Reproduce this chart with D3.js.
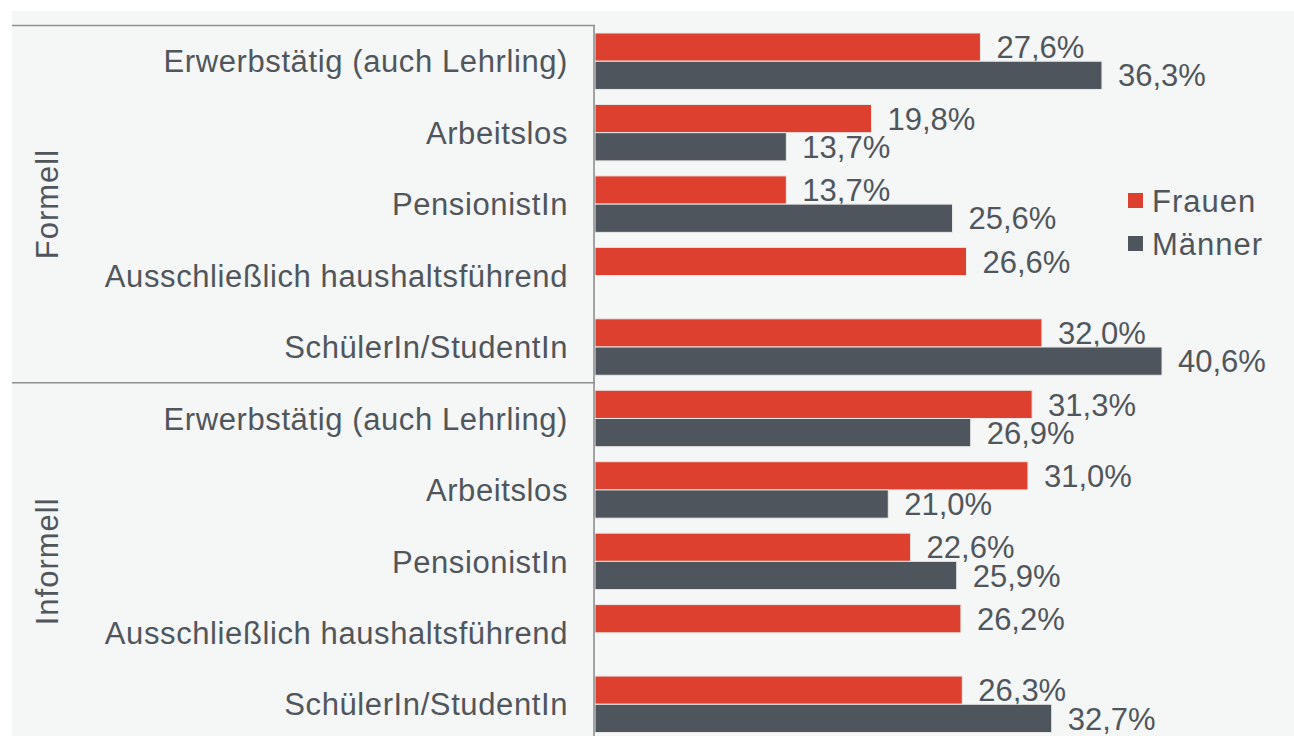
<!DOCTYPE html>
<html>
<head>
<meta charset="utf-8">
<script src="https://cdn.jsdelivr.net/npm/d3@7/dist/d3.min.js"></script>
<style>
  html, body { margin: 0; padding: 0; background: #ffffff; }
  svg { display: block; }
  text { font-family: "Liberation Sans", Arial, sans-serif; fill: #50565c; }
</style>
</head>
<body>
<svg id="chart" width="1294" height="736"></svg>
<script>
// Erwerbsstatus, nach Gruppe (formell / informell) und Geschlecht
const groups = ["Formell", "Informell"];
const categories = [
  "Erwerbstätig (auch Lehrling)",
  "Arbeitslos",
  "PensionistIn",
  "Ausschließlich haushaltsführend",
  "SchülerIn/StudentIn"
];
const series = ["Frauen", "Männer"];
const frauen = [27.6, 19.8, 13.7, 26.6, 32.0, 31.3, 31.0, 22.6, 26.2, 26.3];
const maenner = [36.3, 13.7, 25.6, null, 40.6, 26.9, 21.0, 25.9, null, 32.7];
const colors = ["#dd402e", "#4f555c"];

const rows = [];
groups.forEach((g, gi) => categories.forEach((c, ci) => {
  const i = gi * categories.length + ci;
  rows.push({ key: g + "|" + c, group: g, label: c, values: [frauen[i], maenner[i]] });
}));

const svg = d3.select("#chart");
const W = 1294, H = 736;

// light panel behind the chart
svg.append("rect").attr("x", 12).attr("y", 11).attr("width", W - 12).attr("height", H - 11)
  .attr("fill", "#f5f6f6");

const x0 = 595, yTop = 25.5;
const step = 71.45;
const y = d3.scaleBand().domain(rows.map(r => r.key))
  .range([yTop, yTop + step * rows.length]).paddingInner(0.21).paddingOuter(0.105);
const ySub = d3.scaleBand().domain(series).range([0, y.bandwidth()]);
const x = d3.scaleLinear().domain([0, 40.6]).range([x0, 1162]);

// bars
const rowG = svg.append("g").selectAll("g").data(rows).join("g")
  .attr("transform", d => `translate(0,${y(d.key)})`);

rowG.each(function (d) {
  const g = d3.select(this);
  d.values.forEach((v, si) => {
    if (v == null) return;
    g.append("rect")
      .attr("x", x(0)).attr("y", ySub(series[si]))
      .attr("width", x(v) - x(0)).attr("height", ySub.bandwidth())
      .attr("fill", colors[si]).attr("stroke", "#e9e9e9").attr("stroke-width", 1);
    g.append("text")
      .attr("x", x(v) + 16).attr("y", ySub(series[si]) + ySub.bandwidth() / 2)
      .attr("dy", "0.36em").attr("font-size", 31)
      .text(d3.format(".1f")(v).replace(".", ",") + "%");
  });
});

// category labels
svg.append("g").selectAll("text").data(rows).join("text")
  .attr("x", 568).attr("y", d => y(d.key) + y.bandwidth() / 2)
  .attr("dy", "0.36em").attr("text-anchor", "end").attr("font-size", 31)
  .attr("letter-spacing", 0.6)
  .text(d => d.label);

// group separators and vertical axis line
const gridColor = "#8e8f90";
[0, categories.length].forEach(i => {
  const yy = yTop + i * step;
  svg.append("line").attr("x1", 12).attr("x2", x0).attr("y1", yy).attr("y2", yy)
    .attr("stroke", gridColor).attr("stroke-width", 1.6);
});
svg.append("line").attr("x1", x0 - 1).attr("x2", x0 - 1).attr("y1", yTop).attr("y2", H)
  .attr("stroke", gridColor).attr("stroke-width", 1.6);

// rotated group labels
groups.forEach((g, gi) => {
  const cy = yTop + (gi + 0.5) * categories.length * step;
  svg.append("text")
    .attr("transform", `translate(47,${cy}) rotate(-90)`)
    .attr("text-anchor", "middle").attr("dy", "0.36em").attr("font-size", 31)
    .attr("letter-spacing", 1)
    .text(g);
});

// legend
const leg = svg.append("g").attr("transform", "translate(1128,193)");
series.forEach((s, i) => {
  const gy = i * 43;
  leg.append("rect").attr("x", 0).attr("y", gy).attr("width", 15).attr("height", 15)
    .attr("fill", colors[i]);
  leg.append("text").attr("x", 24).attr("y", gy + 8).attr("dy", "0.36em")
    .attr("font-size", 31).attr("letter-spacing", 1).text(s);
});
</script>
</body>
</html>
